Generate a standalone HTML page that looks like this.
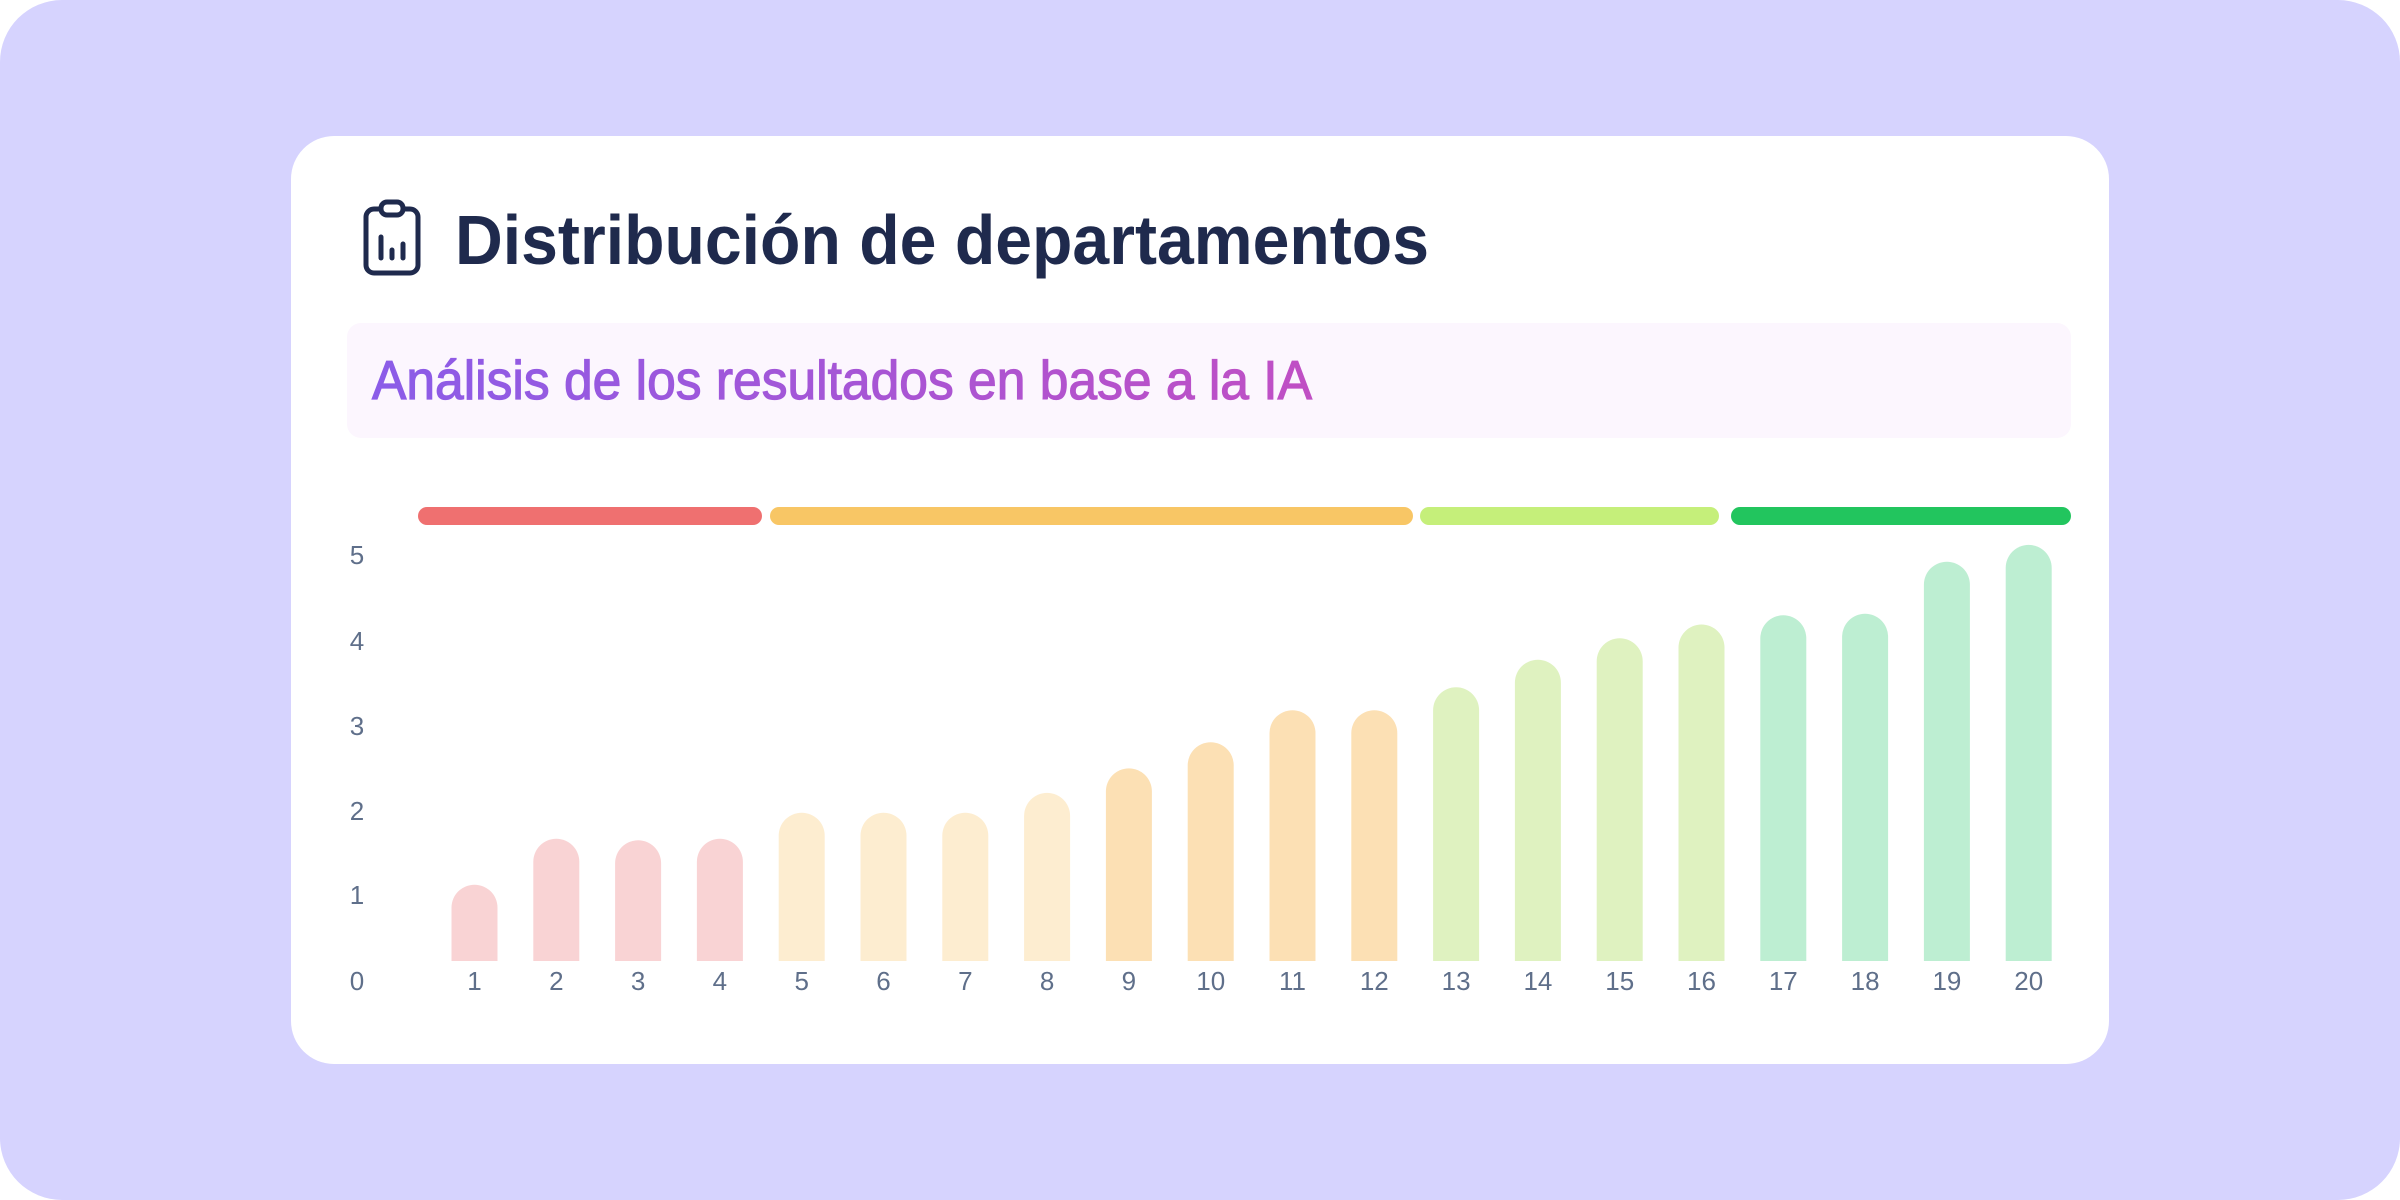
<!DOCTYPE html>
<html><head><meta charset="utf-8"><style>
html,body{margin:0;padding:0;background:#fff;}
svg{display:block;}
text{font-family:"Liberation Sans",sans-serif;}
</style></head><body>
<svg width="2400" height="1200" viewBox="0 0 2400 1200" xmlns="http://www.w3.org/2000/svg">
<defs>
<linearGradient id="g" x1="0" x2="1" y1="0" y2="0"><stop offset="0" stop-color="#8b5ce8"/><stop offset="1" stop-color="#c04fc4"/></linearGradient>
</defs>
<rect x="0" y="0" width="2400" height="1200" rx="62" fill="#d6d3fe"/>
<rect x="291" y="136" width="1818" height="928" rx="43" fill="#ffffff"/>
<g fill="none" stroke="#1f2a4d" stroke-width="5" stroke-linecap="round">
<rect x="366" y="209" width="52" height="64" rx="8"/>
<rect x="381" y="202" width="22" height="13" rx="6" fill="#fff"/>
<line x1="381" y1="237" x2="381" y2="258"/>
<line x1="392" y1="250" x2="392" y2="258"/>
<line x1="403" y1="244" x2="403" y2="258"/>
</g>
<text x="455" y="264" font-size="70" font-weight="bold" fill="#1f2a4d" textLength="974" lengthAdjust="spacingAndGlyphs">Distribución de departamentos</text>
<rect x="347" y="323" width="1724" height="115" rx="14" fill="#fcf6fe"/>
<text x="372" y="399" font-size="55" fill="url(#g)" stroke="url(#g)" stroke-width="1.2" textLength="940" lengthAdjust="spacingAndGlyphs">Análisis de los resultados en base a la IA</text>
<rect x="418" y="507" width="344" height="18" rx="9" fill="#ef7070"/>
<rect x="770" y="507" width="643" height="18" rx="9" fill="#f8c665"/>
<rect x="1420" y="507" width="299" height="18" rx="9" fill="#c5ef7a"/>
<rect x="1731" y="507" width="340" height="18" rx="9" fill="#22c55e"/>
<g font-size="26" fill="#5f6f8a" text-anchor="middle">
<text x="357" y="564">5</text><text x="357" y="650">4</text><text x="357" y="735">3</text>
<text x="357" y="820">2</text><text x="357" y="904">1</text><text x="357" y="990">0</text>
</g>
<g fill="#f9d3d4">
<path d="M451.5 961V907.7A23 23 0 0 1 497.5 907.7V961Z"/>
<path d="M533.3 961V861.8A23 23 0 0 1 579.3 861.8V961Z"/>
<path d="M615.1 961V863.3A23 23 0 0 1 661.1 863.3V961Z"/>
<path d="M696.9 961V861.8A23 23 0 0 1 742.9 861.8V961Z"/>
</g>
<g fill="#fdedd0">
<path d="M778.7 961V835.7A23 23 0 0 1 824.7 835.7V961Z"/>
<path d="M860.5 961V835.7A23 23 0 0 1 906.5 835.7V961Z"/>
<path d="M942.3 961V835.7A23 23 0 0 1 988.3 835.7V961Z"/>
<path d="M1024.1 961V815.9A23 23 0 0 1 1070.1 815.9V961Z"/>
</g>
<g fill="#fce0b4">
<path d="M1105.9 961V791.4A23 23 0 0 1 1151.9 791.4V961Z"/>
<path d="M1187.7 961V765.3A23 23 0 0 1 1233.7 765.3V961Z"/>
<path d="M1269.5 961V733.2A23 23 0 0 1 1315.5 733.2V961Z"/>
<path d="M1351.3 961V733.2A23 23 0 0 1 1397.3 733.2V961Z"/>
</g>
<g fill="#dff2c0">
<path d="M1433.1 961V710.2A23 23 0 0 1 1479.1 710.2V961Z"/>
<path d="M1514.9 961V682.7A23 23 0 0 1 1560.9 682.7V961Z"/>
<path d="M1596.7 961V661.3A23 23 0 0 1 1642.7 661.3V961Z"/>
<path d="M1678.5 961V647.5A23 23 0 0 1 1724.5 647.5V961Z"/>
</g>
<g fill="#bdeed2">
<path d="M1760.3 961V638.3A23 23 0 0 1 1806.3 638.3V961Z"/>
<path d="M1842.1 961V636.8A23 23 0 0 1 1888.1 636.8V961Z"/>
<path d="M1923.9 961V584.7A23 23 0 0 1 1969.9 584.7V961Z"/>
<path d="M2005.7 961V567.9A23 23 0 0 1 2051.7 567.9V961Z"/>
</g>
<g font-size="26" fill="#5f6f8a" text-anchor="middle">
<text x="474.5" y="990">1</text><text x="556.3" y="990">2</text><text x="638.1" y="990">3</text><text x="719.9" y="990">4</text>
<text x="801.7" y="990">5</text><text x="883.5" y="990">6</text><text x="965.3" y="990">7</text><text x="1047.1" y="990">8</text>
<text x="1128.9" y="990">9</text><text x="1210.7" y="990">10</text><text x="1292.5" y="990">11</text><text x="1374.3" y="990">12</text>
<text x="1456.1" y="990">13</text><text x="1537.9" y="990">14</text><text x="1619.7" y="990">15</text><text x="1701.5" y="990">16</text>
<text x="1783.3" y="990">17</text><text x="1865.1" y="990">18</text><text x="1946.9" y="990">19</text><text x="2028.7" y="990">20</text>
</g>
</svg>
</body></html>
